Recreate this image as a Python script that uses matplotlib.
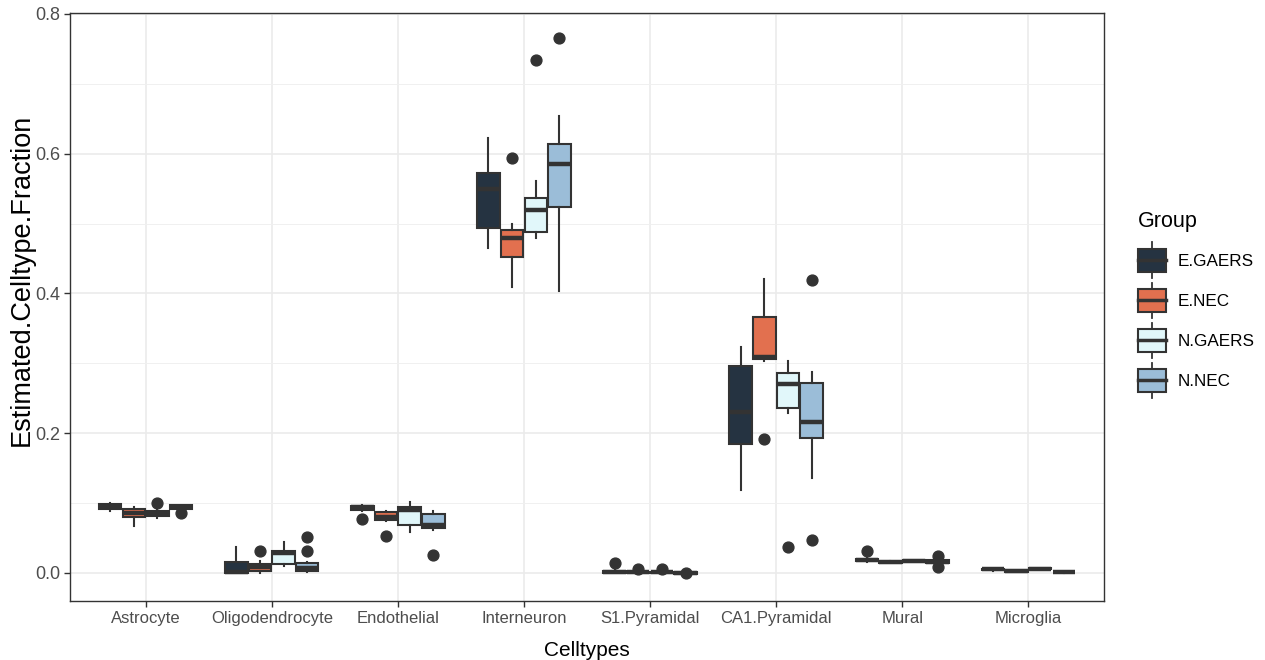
import matplotlib
matplotlib.use("Agg")
import matplotlib.pyplot as plt
from matplotlib.legend_handler import HandlerBase
from matplotlib.patches import Rectangle
from matplotlib.lines import Line2D
from matplotlib.ticker import MultipleLocator

plt.rcParams['font.family'] = ['Liberation Sans', 'DejaVu Sans']

categories = ["Astrocyte", "Oligodendrocyte", "Endothelial", "Interneuron",
              "S1.Pyramidal", "CA1.Pyramidal", "Mural", "Microglia"]
groups = ["E.GAERS", "E.NEC", "N.GAERS", "N.NEC"]
colors = ["#253341", "#E2704F", "#E1F7FA", "#9BBDD8"]

# E.GAERS
egaers_whislo = [0.089, 0.000, 0.089, 0.465, 0.000, 0.119, 0.016, 0.003]
egaers_q1     = [0.091, 0.000, 0.090, 0.494, 0.000, 0.185, 0.017, 0.004]
egaers_med    = [0.095, 0.002, 0.094, 0.550, 0.001, 0.230, 0.019, 0.005]
egaers_q3     = [0.099, 0.016, 0.096, 0.572, 0.003, 0.296, 0.020, 0.006]
egaers_whishi = [0.100, 0.037, 0.097, 0.622, 0.004, 0.323, 0.021, 0.006]
egaers_fliers = [[], [], [0.077], [], [0.014], [], [0.031], []]

# E.NEC
enec_whislo = [0.067, 0.000, 0.074, 0.409, 0.000, 0.303, 0.014, 0.002]
enec_q1     = [0.080, 0.003, 0.076, 0.452, 0.000, 0.306, 0.014, 0.002]
enec_med    = [0.086, 0.008, 0.080, 0.479, 0.001, 0.309, 0.015, 0.003]
enec_q3     = [0.092, 0.013, 0.087, 0.491, 0.002, 0.367, 0.016, 0.004]
enec_whishi = [0.094, 0.017, 0.088, 0.499, 0.003, 0.421, 0.017, 0.004]
enec_fliers = [[], [0.032], [0.053], [0.594], [0.006], [0.192], [], []]

# N.GAERS
ngaers_whislo = [0.079, 0.010, 0.058, 0.479, 0.000, 0.229, 0.016, 0.005]
ngaers_q1     = [0.082, 0.013, 0.069, 0.488, 0.000, 0.236, 0.016, 0.005]
ngaers_med    = [0.086, 0.028, 0.090, 0.520, 0.001, 0.271, 0.017, 0.006]
ngaers_q3     = [0.089, 0.031, 0.095, 0.537, 0.002, 0.286, 0.018, 0.007]
ngaers_whishi = [0.091, 0.044, 0.102, 0.561, 0.003, 0.304, 0.019, 0.007]
ngaers_fliers = [[0.100], [], [], [0.734], [0.005], [0.037], [], []]

# N.NEC
nnec_whislo = [0.092, 0.001, 0.062, 0.404, -0.002, 0.136, 0.013, 0.000]
nnec_q1     = [0.092, 0.003, 0.064, 0.524, -0.001, 0.193, 0.014, 0.001]
nnec_med    = [0.094, 0.007, 0.068, 0.585, 0.000, 0.216, 0.016, 0.001]
nnec_q3     = [0.097, 0.014, 0.085, 0.614, 0.001, 0.272, 0.018, 0.002]
nnec_whishi = [0.098, 0.015, 0.088, 0.654, 0.002, 0.288, 0.019, 0.002]
nnec_fliers = [[0.086], [0.052, 0.032], [0.026], [0.766], [0.000], [0.419, 0.047], [0.025, 0.009], []]

yticks = [0.0, 0.2, 0.4, 0.6, 0.8]
ytick_labels = ["0.0", "0.2", "0.4", "0.6", "0.8"]

series = [
    (egaers_whislo, egaers_q1, egaers_med, egaers_q3, egaers_whishi, egaers_fliers),
    (enec_whislo, enec_q1, enec_med, enec_q3, enec_whishi, enec_fliers),
    (ngaers_whislo, ngaers_q1, ngaers_med, ngaers_q3, ngaers_whishi, ngaers_fliers),
    (nnec_whislo, nnec_q1, nnec_med, nnec_q3, nnec_whishi, nnec_fliers),
]

EDGE = "#333333"
W, H = 1265, 660
fig = plt.figure(figsize=(W / 100, H / 100), dpi=100)
ax = fig.add_axes([70 / W, 59 / H, 1034 / W, 588 / H])

dodge = 0.1875
box_w = 0.178
for gi, (wl, q1, md, q3, wh, fl) in enumerate(series):
    stats = []
    for ci in range(len(categories)):
        stats.append(dict(whislo=wl[ci], q1=q1[ci], med=md[ci], q3=q3[ci],
                          whishi=wh[ci], fliers=fl[ci]))
    pos = [ci + 1 + (gi - 1.5) * dodge for ci in range(len(categories))]
    ax.bxp(stats, positions=pos, widths=box_w, patch_artist=True,
           showcaps=False, manage_ticks=False,
           boxprops=dict(facecolor=colors[gi], edgecolor=EDGE, linewidth=1.5),
           medianprops=dict(color=EDGE, linewidth=3.2, solid_capstyle='butt'),
           whiskerprops=dict(color=EDGE, linewidth=1.5),
           flierprops=dict(marker='o', markerfacecolor=EDGE, markeredgecolor=EDGE,
                           markersize=7.8, linestyle='none'),
           zorder=3)

ax.set_xlim(0.4, len(categories) + 0.6)
ax.set_ylim(-0.0401, 0.8014)
ax.set_xticks(range(1, len(categories) + 1))
ax.set_xticklabels(categories)
ax.set_yticks(yticks)
ax.set_yticklabels(ytick_labels)
ax.yaxis.set_minor_locator(MultipleLocator(0.1))
ax.tick_params(axis='y', which='minor', length=0)
ax.tick_params(axis='both', which='major', length=4, width=1, color="#333333",
               labelcolor="#4D4D4D", pad=3)
ax.tick_params(axis='x', labelsize=12)
ax.tick_params(axis='y', labelsize=13)
ax.grid(True, which='major', color="#EBEBEB", linewidth=1.2, zorder=0)
ax.grid(True, which='minor', axis='y', color="#F0F0F0", linewidth=0.7, zorder=0)
ax.set_axisbelow(True)
for s in ax.spines.values():
    s.set_color("#333333")
    s.set_linewidth(1.0)

ax.set_xlabel("Celltypes", fontsize=15, labelpad=11)
ax.set_ylabel("Estimated.Celltype.Fraction", fontsize=19.5)
ax.yaxis.set_label_coords(-0.0345, 0.546)


class BoxHandler(HandlerBase):
    def __init__(self, fc):
        super().__init__()
        self.fc = fc

    def create_artists(self, legend, orig_handle, xdescent, ydescent, width, height,
                       fontsize, trans):
        cx = -xdescent + width / 2
        y0 = -ydescent
        ext = height * 0.28
        wl = Line2D([cx, cx], [y0 - ext, y0 + height + ext], color=EDGE, lw=1.3,
                    transform=trans)
        r = Rectangle((-xdescent, y0), width, height, facecolor=self.fc,
                      edgecolor=EDGE, lw=1.5, transform=trans)
        md = Line2D([-xdescent, -xdescent + width], [y0 + height / 2] * 2,
                    color=EDGE, lw=2.5, transform=trans)
        return [wl, r, md]


handles = [Rectangle((0, 0), 1, 1) for _ in groups]
leg = fig.legend(handles, groups, loc='upper left',
                 bbox_to_anchor=(1131 / W, 1 - 204 / H),
                 handler_map={h: BoxHandler(c) for h, c in zip(handles, colors)},
                 frameon=False, fontsize=12.3, title="Group", title_fontsize=15.5,
                 alignment='left', handlelength=1.64, handleheight=1.69,
                 labelspacing=1.0, handletextpad=0.7, borderaxespad=0)

fig.savefig("out.png", dpi=100)
